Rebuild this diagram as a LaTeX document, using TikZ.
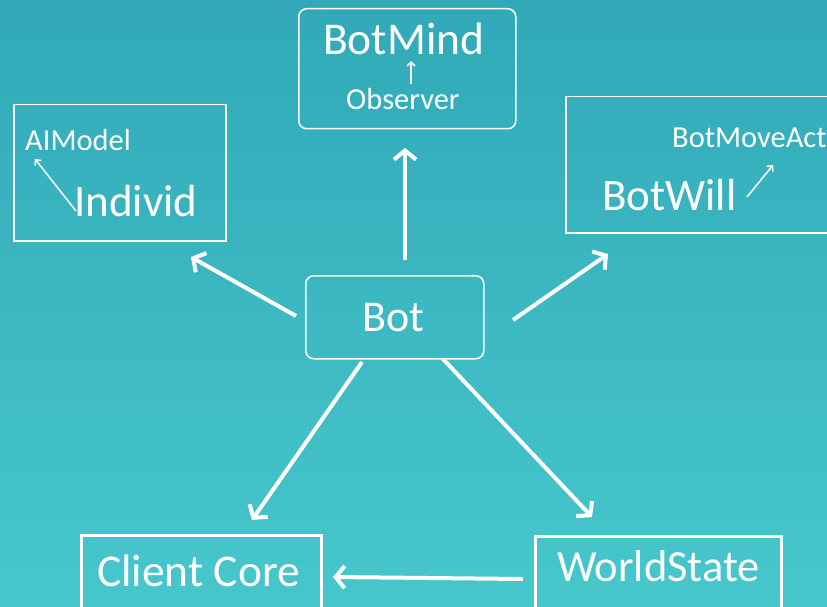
\documentclass[tikz,border=0pt]{standalone}
\usepackage{fontspec}
\setmainfont{Carlito}
\usetikzlibrary{arrows.meta}
\definecolor{bgtop}{HTML}{31A9B8}
\definecolor{bgbot}{HTML}{47C7CC}
\begin{document}
\begin{tikzpicture}[x=1pt,y=-1pt,
  box/.style={draw=white,line width=1.5pt,inner sep=0pt,anchor=north west},
  rbox/.style={box,rounded corners=8pt},
  tbox/.style={box,line width=2.5pt},
  lbl/.style={text=white,inner sep=0pt,anchor=base west},
  conn/.style={draw=white,line width=4pt,-{Straight Barb[length=9pt,width=22pt]}},
  thin/.style={draw=white,line width=1.5pt,-{Straight Barb[length=4pt,width=8pt]}}]
\useasboundingbox (0,0) rectangle (827,607);
\shade[top color=bgtop,bottom color=bgbot] (0,0) rectangle (827,607);
% boxes
\node[rbox,minimum width=217pt,minimum height=120pt] (mindbox) at (298,8) {};
\node[box,minimum width=212pt,minimum height=136pt] (indbox) at (13,104) {};
\node[box,minimum width=270pt,minimum height=136pt] (willbox) at (565,96) {};
\node[rbox,minimum width=178pt,minimum height=83pt] (botbox) at (305,275) {};
\node[tbox,minimum width=240pt,minimum height=80pt] (corebox) at (80,534) {};
\node[tbox,minimum width=246pt,minimum height=80pt] (worldbox) at (534,535) {};
% labels
\node[lbl,font=\fontsize{45.5}{46}\selectfont] (botmind) at (323,55) {BotMind};
\node[lbl,font=\fontsize{30.5}{31}\selectfont] (observer) at (346,110) {Observer};
\node[lbl,font=\fontsize{30.5}{31}\selectfont] (aimodel) at (25,150) {AIModel};
\node[lbl,font=\fontsize{45}{45}\selectfont] (individ) at (74,216) {Individ};
\node[lbl,font=\fontsize{30.5}{31}\selectfont] (botmove) at (672,148) {BotMoveAct};
\node[lbl,font=\fontsize{45}{45}\selectfont] (botwill) at (602,210) {BotWill};
\node[lbl,font=\fontsize{44}{44}\selectfont] (bot) at (362,331) {Bot};
\node[lbl,font=\fontsize{45.5}{46}\selectfont] (core) at (97,586) {Client Core};
\node[lbl,font=\fontsize{44.5}{45}\selectfont] (world) at (557,581) {WorldState};
% connector end points
\coordinate (bN) at (405,260);
\coordinate (mS) at (405,148);
\coordinate (bW) at (296,316);
\coordinate (iE) at (191,257);
\coordinate (bE) at (513,320);
\coordinate (wW) at (608,254);
\coordinate (bSW) at (362,362);
\coordinate (cN) at (252,520);
\coordinate (bSE) at (443,359);
\coordinate (sN) at (592,517);
\coordinate (wsW) at (523,579);
\coordinate (cE) at (333,577);
\coordinate (obsN) at (411,84);
\coordinate (mindS) at (411,61);
\coordinate (indNW) at (76,211);
\coordinate (aiS) at (35,159);
\coordinate (willNE) at (747,197);
\coordinate (moveS) at (773,165);
% connectors
\draw[conn] (bN) -- (mS);
\draw[conn] (bW) -- (iE);
\draw[conn] (bE) -- (wW);
\draw[conn] (bSW) -- (cN);
\draw[conn] (bSE) -- (sN);
\draw[conn] (wsW) -- (cE);
\draw[thin] (obsN) -- (mindS);
\draw[thin] (indNW) -- (aiS);
\draw[thin] (willNE) -- (moveS);
\end{tikzpicture}
\end{document}
